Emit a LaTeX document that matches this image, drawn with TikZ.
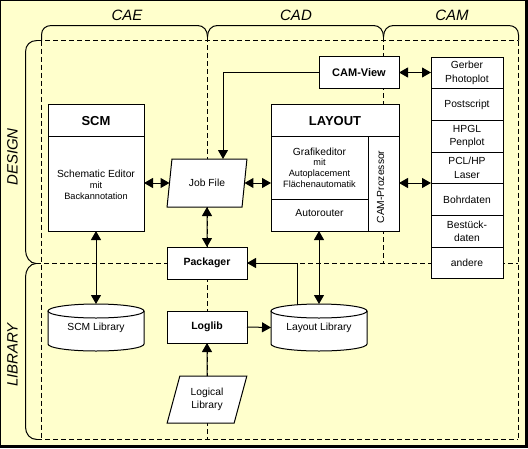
\documentclass[tikz,border=0pt]{standalone}
\usepackage{fontspec}
\setmainfont{Liberation Sans}
\usetikzlibrary{arrows.meta,shapes.geometric}
\definecolor{bgyellow}{HTML}{FFFFCC}
\begin{document}
\begin{tikzpicture}[x=1pt,y=-1pt,line width=1pt,
  bx/.style={draw=black,fill=white,inner sep=0pt,outer sep=0pt,line width=1pt},
  sect/.style={font=\fontsize{15}{18}\selectfont\itshape,inner sep=0pt},
  txt/.style={font=\fontsize{10.3}{13.3}\selectfont,inner sep=0pt},
  smalltxt/.style={font=\fontsize{9.2}{11}\selectfont,inner sep=0pt},
  hdr/.style={font=\fontsize{13}{15}\selectfont\bfseries,inner sep=0pt},
  btxt/.style={font=\fontsize{10.5}{13}\selectfont\bfseries},
  dsh/.style={dash pattern=on 5pt off 3pt},
  arr/.style={-{Triangle[length=9pt,width=10pt]}},
  darr/.style={{Triangle[length=9pt,width=10pt]}-{Triangle[length=9pt,width=10pt]}},
  para/.style={bx,txt,trapezium,trapezium left angle=71.57,trapezium right angle=108.43,
    trapezium stretches=true,minimum width=80pt,align=center},
  lbl/.style={txt,minimum width=96pt,minimum height=47pt,outer sep=0pt},
]
% background and frame
\fill[bgyellow] (0,0) rectangle (528,448);
\useasboundingbox (0,0) rectangle (528,448);
\fill[black] (0,0) rectangle (528,1);
\fill[black] (0,0) rectangle (1,448);
\fill[black] (525,0) rectangle (528,448);
\fill[black] (0,445) rectangle (528,448);

% section labels
\node[sect] (cae) at (127,15) {CAE};
\node[sect] (cad) at (296,15) {CAD};
\node[sect] (cam) at (452,15) {CAM};
\node[sect,rotate=90] (design) at (12.5,157) {DESIGN};
\node[sect,rotate=90] (library) at (12.5,355) {LIBRARY};

% dashed grid
\draw[dsh] (37,40.5) -- (518,40.5);
\draw[dsh] (36,263.5) -- (518,263.5);
\draw[dsh] (37,439.5) -- (518,439.5);
\draw[dsh] (41.5,40.5) -- (41.5,439.5);
\draw[dsh] (518.5,40.5) -- (518.5,439.5);
\draw[dsh] (207.5,37) -- (207.5,439.5);
\draw[dsh] (383.5,37) -- (383.5,263.5);

% top braces
\draw (41.5,40.5) -- (41.5,35) .. controls (41.5,29) and (45.5,25.5) .. (51.5,25.5)
  -- (197.5,25.5) .. controls (203.5,25.5) and (207.5,30) .. (207.5,37);
\draw (207.5,37) .. controls (207.5,30) and (211.5,25.5) .. (217.5,25.5)
  -- (373.5,25.5) .. controls (379.5,25.5) and (383.5,30) .. (383.5,37);
\draw (383.5,37) .. controls (383.5,30) and (387.5,25.5) .. (393.5,25.5)
  -- (508.5,25.5) .. controls (514.5,25.5) and (518.5,29) .. (518.5,35) -- (518.5,40.5);
% left braces
\draw (37,40.5) .. controls (30,40.5) and (25.5,45) .. (25.5,52)
  -- (25.5,250) .. controls (25.5,257) and (30,263.5) .. (36,263.5);
\draw (36,263.5) .. controls (30,263.5) and (25.5,270) .. (25.5,277)
  -- (25.5,427) .. controls (25.5,434) and (30,439.5) .. (37,439.5);

% SCM
\node[bx,minimum width=96pt,minimum height=127pt] (scm) at (96,167.5) {};
\draw (48,136) -- (144,136);
\node[hdr] (scmT) at (96,121) {SCM};
\node[txt,anchor=base] (scm1) at (96,177.3) {Schematic Editor};
\node[smalltxt,anchor=base] (scm2) at (96,188.3) {mit};
\node[smalltxt,anchor=base] (scm3) at (96,199) {Backannotation};

% Job File
\node[para,minimum height=48pt] (jf) at (207,183) {Job File};

% LAYOUT
\node[bx,minimum width=128pt,minimum height=127pt] (layout) at (335,167.5) {};
\draw (271,136) -- (399,136);
\draw (368,136) -- (368,231);
\draw (271,199) -- (368,199);
\node[hdr] (layT) at (335,121) {LAYOUT};
\node[txt,anchor=base] (lay1) at (319.5,155) {Grafikeditor};
\node[smalltxt,anchor=base] (lay2) at (319.5,165.7) {mit};
\node[smalltxt,anchor=base] (lay3) at (319.5,176.7) {Autoplacement};
\node[smalltxt,anchor=base] (lay4) at (319.5,187.3) {Flächenautomatik};
\node[txt,anchor=base] (lay5) at (319.5,216) {Autorouter};
\node[txt,rotate=90] (lay6) at (380.5,187) {CAM-Prozessor};

% CAM-View
\node[bx,btxt,font=\fontsize{11}{13}\selectfont\bfseries,minimum width=80pt,minimum height=32pt] (camview) at (359,72.5) {CAM-View};

% output stack
\node[bx,txt,align=center,minimum width=72pt,minimum height=31.7pt] (s1) at (467,72.85) {Gerber\\Photoplot};
\node[bx,txt,align=center,minimum width=72pt,minimum height=31.7pt] (s2) at (467,104.55) {Postscript};
\node[bx,txt,align=center,minimum width=72pt,minimum height=31.7pt] (s3) at (467,136.25) {HPGL\\Penplot};
\node[bx,txt,align=center,minimum width=72pt,minimum height=31.7pt] (s4) at (467,167.95) {PCL/HP\\Laser};
\node[bx,txt,align=center,minimum width=72pt,minimum height=31.7pt] (s5) at (467,199.65) {Bohrdaten};
\node[bx,txt,align=center,minimum width=72pt,minimum height=31.7pt] (s6) at (467,231.35) {Bestück-\\daten};
\node[bx,txt,align=center,minimum width=72pt,minimum height=31.7pt] (s7) at (467,263.05) {andere};

% Packager, Loglib, Logical Library
\node[bx,btxt,minimum width=80pt,minimum height=32pt] (pack) at (207,263) {Packager};
\node[bx,btxt,minimum width=80pt,minimum height=32pt] (loglib) at (207,327) {Loglib};
\node[para,minimum height=47pt] (logical) at (207,399.5) {Logical\\Library};

% SCM Library cylinder
\draw[fill=white] (48,311) -- (48,344) .. controls (48,347.9) and (69.5,351) .. (96,351)
  .. controls (122.5,351) and (144,347.9) .. (144,344) -- (144,311);
\draw[fill=white] (96,311) ellipse [x radius=48pt,y radius=7pt];
\node[lbl] (scmlib) at (96,327.5) {SCM Library};
% Layout Library cylinder
\draw[fill=white] (271,311) -- (271,344) .. controls (271,347.9) and (292.5,351) .. (319,351)
  .. controls (345.5,351) and (367,347.9) .. (367,344) -- (367,311);
\draw[fill=white] (319,311) ellipse [x radius=48pt,y radius=7pt];
\node[lbl] (laylib) at (319,327.5) {Layout Library};

% connectors
\draw[darr] (jf.west -| scm.east) -- (jf.west);
\draw[darr] (jf.east) -- (jf.east -| layout.west);
\draw[darr] (camview.east) -- (camview.east -| s1.west);
\draw[darr] (jf.east -| layout.east) -- (jf.east -| s4.west);
\draw[arr] (camview.west) -| ([xshift=16pt]jf.north);
\draw[darr] (jf.south) -- (pack.north);
\draw[darr] (scm.south) -- (scmlib.north);
\draw[darr] (layout.south -| laylib.north) -- (laylib.north);
\draw[arr] ([xshift=-22pt,yshift=-1pt]laylib.north) |- (pack.east);
\draw[arr] (loglib.east) -- (laylib.west);
\draw[arr] (logical.north) -- (loglib.south);
\end{tikzpicture}
\end{document}
